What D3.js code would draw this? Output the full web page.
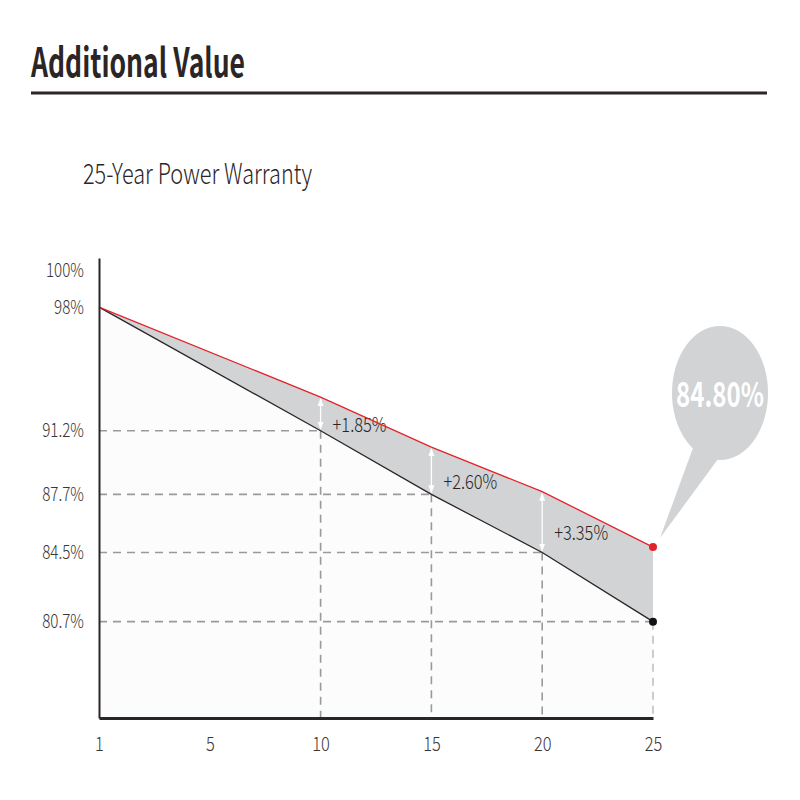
<!DOCTYPE html>
<html>
<head>
<meta charset="utf-8">
<script src="https://cdn.jsdelivr.net/npm/d3@7"></script>
<style>
  html, body { margin: 0; padding: 0; background: #fff; }
  svg { display: block; }
  text { font-family: 'Noto Sans CJK SC', 'Noto Sans', sans-serif; }
</style>
</head>
<body>
<svg id="chart" width="800" height="800"></svg>
<script>
// ---------- data ----------
const titleText = "Additional Value";
const subtitleText = "25-Year Power Warranty";
const xTickLabels = ["1", "5", "10", "15", "20", "25"];
const yTickValues = [100, 98, 91.2, 87.7, 84.5, 80.7];
const seriesYears = ["1", "10", "15", "20", "25"];
const standardValues = [98, 91.2, 87.7, 84.5, 80.7];
const enhancedValues = [98, 93.05, 90.3, 87.85, 84.8];
const gainYears = ["10", "15", "20"];
const gainLabels = ["+1.85%", "+2.60%", "+3.35%"];
const calloutLabel = "84.80%";

// ---------- layout ----------
const svg = d3.select("#chart");
const plot = { left: 99, right: 653, top: 258, bottom: 718 };
const C = {
  ink: "#2b2526", text: "#3a3536", red: "#e3232b", band: "#d1d3d4",
  under: "#fcfcfc", dash: "#9a9a9a"
};

const x = d3.scalePoint().domain(xTickLabels).range([plot.left, plot.right]);
const y = d3.scaleLinear().domain([75.4, 100.7]).range([plot.bottom, plot.top]);

function condense(sel, f) {
  sel.each(function () {
    const w = this.getComputedTextLength();
    d3.select(this).attr("textLength", w * f).attr("lengthAdjust", "spacingAndGlyphs");
  });
}

// ---------- header ----------
svg.append("text")
  .attr("x", 31).attr("y", 77)
  .attr("font-size", 40).attr("font-weight", 700).attr("fill", C.ink)
  .attr("textLength", 214).attr("lengthAdjust", "spacingAndGlyphs")
  .text(titleText);
svg.append("line")
  .attr("x1", 31).attr("x2", 767).attr("y1", 93).attr("y2", 93)
  .attr("stroke", C.ink).attr("stroke-width", 3);
svg.append("text")
  .attr("x", 83).attr("y", 184)
  .attr("font-size", 28).attr("font-weight", 300).attr("fill", C.ink)
  .attr("textLength", 229).attr("lengthAdjust", "spacingAndGlyphs")
  .text(subtitleText);

// ---------- data rows ----------
const rows = seriesYears.map((yr, i) => ({ yr, std: standardValues[i], enh: enhancedValues[i] }));

// area under standard line
svg.append("path")
  .datum(rows)
  .attr("fill", C.under)
  .attr("d", d3.area().x(d => x(d.yr)).y0(plot.bottom).y1(d => y(d.std)));

// band between lines
svg.append("path")
  .datum(rows)
  .attr("fill", C.band)
  .attr("d", d3.area().x(d => x(d.yr)).y0(d => y(d.std)).y1(d => y(d.enh)));

// dashed guides
const guides = rows.slice(1);
svg.append("g").selectAll("line").data(guides).join("line")
  .attr("x1", plot.left).attr("x2", d => x(d.yr))
  .attr("y1", d => y(d.std)).attr("y2", d => y(d.std))
  .attr("stroke", C.dash).attr("stroke-width", 1.6).attr("stroke-dasharray", "8,6");
svg.append("g").selectAll("line").data(guides).join("line")
  .attr("x1", d => x(d.yr)).attr("x2", d => x(d.yr))
  .attr("y1", d => y(d.std)).attr("y2", plot.bottom)
  .attr("stroke", C.dash).attr("stroke-width", 1.6).attr("stroke-dasharray", "8,6")
  .attr("stroke-opacity", (d, i) => i === guides.length - 1 ? 0.6 : 1);

// arrow marker
const defs = svg.append("defs");
defs.append("marker")
  .attr("id", "arr").attr("viewBox", "0 0 8 8")
  .attr("refX", 7).attr("refY", 4)
  .attr("markerWidth", 8).attr("markerHeight", 8)
  .attr("markerUnits", "userSpaceOnUse")
  .attr("orient", "auto-start-reverse")
  .append("path").attr("d", "M0,1 L8,4 L0,7 z").attr("fill", "#fff");

const gains = gainYears.map((yr, i) => {
  const r = rows.find(d => d.yr === yr);
  return { yr, label: gainLabels[i], std: r.std, enh: r.enh };
});
svg.append("g").selectAll("line").data(gains).join("line")
  .attr("x1", d => x(d.yr)).attr("x2", d => x(d.yr))
  .attr("y1", d => y(d.std) - 2).attr("y2", d => y(d.enh) + 2)
  .attr("stroke", "#fff").attr("stroke-width", 1.3)
  .attr("marker-start", "url(#arr)").attr("marker-end", "url(#arr)");

const gainText = svg.append("g").selectAll("text").data(gains).join("text")
  .attr("x", d => x(d.yr) + 12)
  .attr("y", d => (y(d.std) + y(d.enh)) / 2 + 11)
  .attr("dy", "0.35em")
  .attr("font-size", 20).attr("font-weight", 300).attr("fill", C.ink)
  .text(d => d.label);
condense(gainText, 0.82);

// lines
svg.append("path").datum(rows)
  .attr("fill", "none").attr("stroke", C.ink).attr("stroke-width", 1.3)
  .attr("d", d3.line().x(d => x(d.yr)).y(d => y(d.std)));
svg.append("path").datum(rows)
  .attr("fill", "none").attr("stroke", C.red).attr("stroke-width", 1.3)
  .attr("d", d3.line().x(d => x(d.yr)).y(d => y(d.enh)));

// end dots
const last = rows[rows.length - 1];
svg.append("circle").attr("cx", x(last.yr)).attr("cy", y(last.std)).attr("r", 4).attr("fill", "#111");
svg.append("circle").attr("cx", x(last.yr)).attr("cy", y(last.enh)).attr("r", 4).attr("fill", C.red);

// axes
const yAxis = svg.append("g")
  .attr("transform", `translate(${plot.left},0)`)
  .call(d3.axisLeft(y).tickValues(yTickValues).tickSize(0).tickSizeOuter(0).tickPadding(15)
    .tickFormat(d => d + "%"));
yAxis.select(".domain").attr("stroke", C.ink).attr("stroke-width", 2);
yAxis.selectAll("text").attr("font-size", 19).attr("font-weight", 300).attr("fill", C.text)
  .attr("font-family", "'Noto Sans CJK SC', 'Noto Sans', sans-serif");
condense(yAxis.selectAll("text"), 0.8);

const xAxis = svg.append("g")
  .attr("transform", `translate(0,${plot.bottom})`)
  .call(d3.axisBottom(x).tickSize(0).tickSizeOuter(0).tickPadding(19));
xAxis.select(".domain").attr("stroke", C.ink).attr("stroke-width", 3);
xAxis.selectAll("text").attr("font-size", 20).attr("font-weight", 300).attr("fill", C.text)
  .attr("font-family", "'Noto Sans CJK SC', 'Noto Sans', sans-serif");
condense(xAxis.selectAll("text"), 0.82);

// callout bubble
const tip = [x(last.yr) + 7, y(last.enh) - 9];
const bubble = svg.append("g");
bubble.append("path")
  .attr("d", `M693,448 L${tip[0]},${tip[1]} L718,459 Z`)
  .attr("fill", C.band);
bubble.append("ellipse")
  .attr("cx", 720).attr("cy", 393).attr("rx", 48).attr("ry", 67)
  .attr("fill", C.band);
bubble.append("text")
  .attr("x", 720).attr("y", 395).attr("dy", "0.35em")
  .attr("text-anchor", "middle")
  .attr("font-size", 34).attr("font-weight", 700).attr("fill", "#fff")
  .attr("textLength", 88).attr("lengthAdjust", "spacingAndGlyphs")
  .text(calloutLabel);
</script>
</body>
</html>
